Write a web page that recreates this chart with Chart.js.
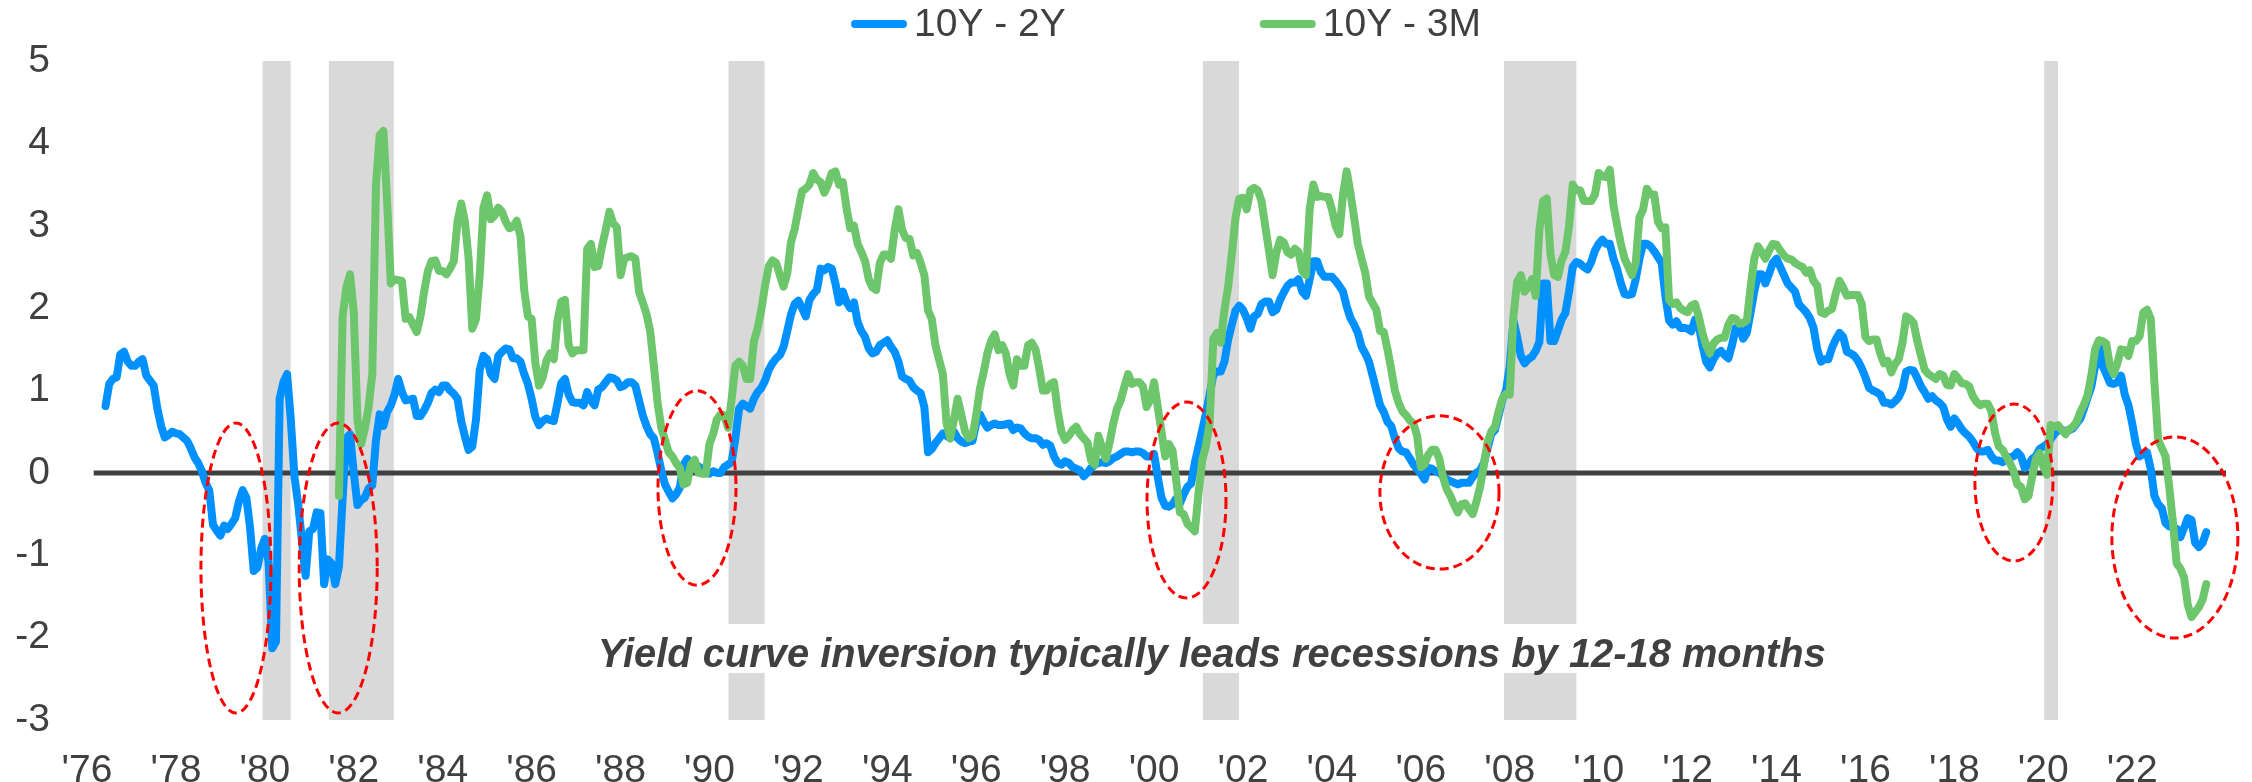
<!DOCTYPE html>
<html>
<head>
<meta charset="utf-8">
<script src="https://cdn.jsdelivr.net/npm/chart.js@4.4.0/dist/chart.umd.min.js"></script>
<style>
  html, body { margin: 0; padding: 0; background: #ffffff; }
  #wrap { width: 2252px; height: 782px; position: relative; }
</style>
</head>
<body>
<div id="wrap"><canvas id="chart"></canvas></div>
<script>
// ---------------- DATA ----------------
const seriesNames = ['10Y - 2Y', '10Y - 3M'];

// monthly values, first month given by start string
const start10y2y = '1976-06';
const spread10y2y = [
  /*1976 Jun-Dec*/ 0.81, 1.08, 1.14, 1.16, 1.44, 1.47, 1.35,
  /*1977*/ 1.30, 1.30, 1.35, 1.38, 1.18, 1.12, 1.06, 0.78, 0.57, 0.43, 0.46, 0.50,
  /*1978*/ 0.48, 0.47, 0.43, 0.39, 0.30, 0.19, 0.12, 0.02, -0.12, -0.21, -0.63, -0.70,
  /*1979*/ -0.76, -0.64, -0.68, -0.62, -0.55, -0.35, -0.21, -0.30, -0.66, -1.19, -1.15, -0.92,
  /*1980*/ -0.80, -1.08, -2.13, -2.05, 0.90, 1.10, 1.20, 0.65, -0.05, -0.38, -0.82, -1.25,
  /*1981*/ -0.71, -0.68, -0.48, -0.49, -1.35, -1.05, -1.10, -1.35, -1.14, -0.30, 0.42, 0.47,
  /*1982*/ 0.00, -0.39, -0.33, -0.30, -0.19, -0.15, 0.40, 0.71, 0.57, 0.74, 0.82, 0.95,
  /*1983*/ 1.14, 0.98, 0.88, 0.89, 0.90, 0.69, 0.69, 0.76, 0.85, 0.97, 1.01, 0.98,
  /*1984*/ 1.06, 1.06, 1.00, 0.96, 0.90, 0.63, 0.44, 0.28, 0.32, 0.65, 1.25, 1.42,
  /*1985*/ 1.38, 1.20, 1.14, 1.42, 1.47, 1.51, 1.50, 1.39, 1.39, 1.35, 1.20, 1.08,
  /*1986*/ 0.90, 0.68, 0.58, 0.63, 0.66, 0.64, 0.63, 0.85, 1.09, 1.14, 0.95, 0.86,
  /*1987*/ 0.85, 0.85, 0.82, 0.98, 0.88, 0.82, 1.01, 1.04, 1.10, 1.16, 1.15, 1.12,
  /*1988*/ 1.04, 1.06, 1.10, 1.10, 1.06, 0.88, 0.70, 0.57, 0.47, 0.42, 0.24, 0.03,
  /*1989*/ -0.14, -0.23, -0.31, -0.26, -0.18, 0.10, 0.17, 0.12, 0.05, 0.08, 0.05, 0.02,
  /*1990*/ -0.01, 0.02, 0.00, 0.00, 0.07, 0.10, 0.13, 0.42, 0.78, 0.84, 0.81, 0.78,
  /*1991*/ 0.90, 0.98, 1.03, 1.12, 1.25, 1.33, 1.39, 1.43, 1.53, 1.72, 1.92, 2.05,
  /*1992*/ 2.09, 2.00, 1.90, 2.10, 2.17, 2.22, 2.48, 2.46, 2.50, 2.48, 2.30, 2.07,
  /*1993*/ 2.20, 2.07, 2.00, 2.07, 1.83, 1.72, 1.65, 1.51, 1.45, 1.47, 1.55, 1.58,
  /*1994*/ 1.61, 1.53, 1.47, 1.35, 1.17, 1.14, 1.12, 1.04, 1.00, 0.97, 0.80, 0.25,
  /*1995*/ 0.29, 0.36, 0.42, 0.48, 0.45, 0.42, 0.50, 0.42, 0.38, 0.36, 0.38, 0.39,
  /*1996*/ 0.60, 0.71, 0.62, 0.55, 0.58, 0.60, 0.58, 0.58, 0.59, 0.60, 0.52, 0.55,
  /*1997*/ 0.54, 0.48, 0.44, 0.42, 0.42, 0.40, 0.34, 0.36, 0.33, 0.20, 0.12, 0.10,
  /*1998*/ 0.14, 0.12, 0.07, 0.05, 0.03, -0.04, 0.00, 0.06, 0.10, 0.12, 0.13, 0.12,
  /*1999*/ 0.14, 0.18, 0.20, 0.23, 0.26, 0.26, 0.25, 0.26, 0.26, 0.24, 0.20, 0.20,
  /*2000*/ 0.23, -0.05, -0.30, -0.40, -0.41, -0.38, -0.31, -0.37, -0.26, -0.17, -0.13, 0.12,
  /*2001*/ 0.32, 0.52, 0.72, 0.95, 1.19, 1.23, 1.23, 1.35, 1.62, 1.80, 1.97, 2.03,
  /*2002*/ 1.98, 1.88, 1.75, 1.90, 1.93, 2.05, 2.08, 2.08, 1.95, 1.98, 2.10, 2.19,
  /*2003*/ 2.27, 2.31, 2.31, 2.35, 2.20, 2.15, 2.35, 2.57, 2.57, 2.44, 2.38, 2.38,
  /*2004*/ 2.38, 2.33, 2.27, 2.20, 2.02, 1.88, 1.80, 1.70, 1.53, 1.45, 1.35, 1.18,
  /*2005*/ 1.00, 0.82, 0.74, 0.62, 0.57, 0.42, 0.30, 0.26, 0.25, 0.18, 0.10, 0.05,
  /*2006*/ -0.01, -0.08, 0.06, 0.05, 0.02, 0.00, -0.04, -0.08, -0.10, -0.12, -0.14, -0.12,
  /*2007*/ -0.12, -0.12, -0.05, 0.00, 0.03, 0.12, 0.30, 0.47, 0.52, 0.70, 0.88, 1.00,
  /*2008*/ 1.30, 1.85, 1.65, 1.42, 1.33, 1.38, 1.41, 1.48, 1.59, 2.30, 2.30, 1.60,
  /*2009*/ 1.60, 1.73, 1.86, 1.94, 2.20, 2.50, 2.56, 2.54, 2.50, 2.47, 2.56, 2.70,
  /*2010*/ 2.78, 2.83, 2.78, 2.78, 2.60, 2.47, 2.30, 2.17, 2.16, 2.17, 2.35, 2.60,
  /*2011*/ 2.78, 2.78, 2.75, 2.69, 2.62, 2.55, 2.15, 1.85, 1.80, 1.84, 1.76, 1.76,
  /*2012*/ 1.75, 1.72, 1.86, 1.80, 1.55, 1.35, 1.28, 1.38, 1.45, 1.48, 1.43, 1.39,
  /*2013*/ 1.55, 1.76, 1.76, 1.63, 1.70, 1.95, 2.20, 2.41, 2.41, 2.30, 2.42, 2.55,
  /*2014*/ 2.60, 2.50, 2.40, 2.30, 2.25, 2.20, 2.05, 2.00, 1.95, 1.88, 1.76, 1.50,
  /*2015*/ 1.35, 1.38, 1.38, 1.52, 1.62, 1.70, 1.65, 1.47, 1.45, 1.42, 1.36, 1.27,
  /*2016*/ 1.16, 1.03, 1.00, 0.98, 0.95, 0.85, 0.85, 0.83, 0.87, 0.92, 1.02, 1.23,
  /*2017*/ 1.25, 1.24, 1.15, 1.05, 0.98, 0.90, 0.93, 0.88, 0.85, 0.80, 0.65, 0.56,
  /*2018*/ 0.66, 0.60, 0.53, 0.48, 0.44, 0.38, 0.30, 0.26, 0.26, 0.28, 0.20, 0.15,
  /*2019*/ 0.15, 0.13, 0.16, 0.19, 0.20, 0.25, 0.20, 0.06, 0.10, 0.17, 0.20, 0.29,
  /*2020*/ 0.32, 0.35, 0.41, 0.47, 0.52, 0.52, 0.51, 0.52, 0.54, 0.60, 0.66, 0.78,
  /*2021*/ 0.92, 1.05, 1.30, 1.57, 1.30, 1.20, 1.09, 1.08, 1.10, 1.18, 0.95, 0.82,
  /*2022*/ 0.60, 0.35, 0.20, 0.23, 0.25, 0.05, -0.28, -0.38, -0.43, -0.61, -0.65, -0.66,
  /*2023 Jan-Sep*/ -0.68, -0.78, -0.67, -0.55, -0.57, -0.85, -0.90, -0.85, -0.72
];

const start10y3m = '1981-09';
const spread10y3m = [
  /*1981 Sep-Dec*/ -0.28, 1.90, 2.25, 2.41,
  /*1982*/ 1.95, 0.65, 0.35, 0.54, 0.80, 1.20, 3.50, 4.10, 4.15, 3.30, 2.30, 2.35,
  /*1983*/ 2.34, 2.33, 1.87, 1.89, 1.80, 1.71, 1.90, 2.20, 2.45, 2.57, 2.58, 2.45,
  /*1984*/ 2.45, 2.41, 2.48, 2.57, 3.05, 3.27, 3.05, 2.60, 1.75, 1.87, 2.40, 3.22,
  /*1985*/ 3.37, 3.08, 3.12, 3.22, 3.17, 3.05, 2.97, 2.99, 3.06, 2.87, 2.22, 1.90,
  /*1986*/ 1.87, 1.34, 1.06, 1.16, 1.36, 1.45, 1.38, 1.85, 2.08, 2.10, 1.55, 1.45,
  /*1987*/ 1.49, 1.49, 1.49, 2.72, 2.78, 2.50, 2.51, 2.75, 2.95, 3.17, 3.03, 2.98,
  /*1988*/ 2.40, 2.60, 2.62, 2.63, 2.60, 2.20, 2.07, 1.93, 1.72, 1.30, 0.85, 0.55,
  /*1989*/ 0.40, 0.25, 0.20, 0.12, 0.06, -0.14, -0.12, 0.10, 0.16, 0.00, -0.01, -0.01,
  /*1990*/ 0.35, 0.47, 0.65, 0.71, 0.70, 0.55, 0.90, 1.30, 1.35, 1.30, 1.14, 1.14,
  /*1991*/ 1.60, 1.75, 1.98, 2.27, 2.51, 2.58, 2.55, 2.40, 2.26, 2.42, 2.80, 2.96,
  /*1992*/ 3.20, 3.42, 3.45, 3.50, 3.64, 3.56, 3.53, 3.40, 3.50, 3.64, 3.66, 3.50,
  /*1993*/ 3.53, 3.21, 2.97, 3.00, 2.78, 2.68, 2.57, 2.35, 2.25, 2.22, 2.55, 2.65,
  /*1994*/ 2.65, 2.60, 2.95, 3.20, 2.95, 2.85, 2.84, 2.64, 2.67, 2.55, 2.40, 1.97,
  /*1995*/ 1.87, 1.55, 1.37, 1.20, 0.60, 0.42, 0.65, 0.90, 0.70, 0.50, 0.42, 0.45,
  /*1996*/ 0.70, 1.02, 1.22, 1.45, 1.60, 1.68, 1.49, 1.55, 1.45, 1.20, 1.06, 1.38,
  /*1997*/ 1.30, 1.30, 1.55, 1.58, 1.50, 1.27, 1.00, 1.00, 1.08, 1.10, 0.75, 0.50,
  /*1998*/ 0.40, 0.45, 0.52, 0.56, 0.47, 0.42, 0.37, 0.15, 0.10, 0.45, 0.30, 0.17,
  /*1999*/ 0.37, 0.60, 0.78, 0.88, 1.05, 1.20, 1.08, 1.10, 1.10, 1.05, 0.80, 0.89,
  /*2000*/ 1.10, 0.80, 0.50, 0.20, 0.35, 0.27, -0.10, -0.48, -0.50, -0.62, -0.66, -0.71,
  /*2001*/ -0.25, 0.15, 0.33, 0.60, 1.63, 1.70, 1.58, 1.98, 2.26, 2.66, 3.10, 3.33,
  /*2002*/ 3.34, 3.20, 3.43, 3.46, 3.43, 3.30, 3.00, 2.70, 2.40, 2.67, 2.83, 2.80,
  /*2003*/ 2.68, 2.65, 2.72, 2.68, 2.45, 2.40, 3.20, 3.50, 3.35, 3.36, 3.35, 3.35,
  /*2004*/ 3.20, 3.00, 2.90, 3.38, 3.66, 3.40, 3.10, 2.78, 2.60, 2.43, 2.14, 2.06,
  /*2005*/ 1.98, 1.72, 1.71, 1.50, 1.26, 1.00, 0.85, 0.75, 0.70, 0.64, 0.60, 0.45,
  /*2006*/ 0.07, 0.10, 0.22, 0.28, 0.28, 0.17, -0.05, -0.20, -0.28, -0.39, -0.48, -0.38,
  /*2007*/ -0.37, -0.44, -0.50, -0.35, -0.17, 0.09, 0.37, 0.50, 0.56, 0.75, 0.90, 0.96,
  /*2008*/ 0.95, 1.90, 2.32, 2.40, 2.20, 2.26, 2.35, 2.15, 2.95, 3.30, 3.33, 2.65,
  /*2009*/ 2.40, 2.38, 2.58, 2.68, 2.99, 3.50, 3.43, 3.43, 3.30, 3.30, 3.30, 3.38,
  /*2010*/ 3.64, 3.60, 3.59, 3.68, 3.25, 3.00, 2.78, 2.60, 2.50, 2.40, 2.55, 3.10,
  /*2011*/ 3.20, 3.45, 3.38, 3.38, 3.05, 2.97, 2.98, 2.10, 2.05, 2.07, 2.00, 1.97,
  /*2012*/ 1.95, 2.03, 2.05, 1.90, 1.70, 1.55, 1.45, 1.57, 1.62, 1.64, 1.64, 1.80,
  /*2013*/ 1.88, 1.87, 1.81, 1.82, 1.85, 2.25, 2.60, 2.75, 2.68, 2.60, 2.70, 2.78,
  /*2014*/ 2.77, 2.70, 2.64, 2.60, 2.59, 2.55, 2.52, 2.50, 2.43, 2.46, 2.33, 2.27,
  /*2015*/ 1.95, 1.93, 1.97, 1.99, 2.18, 2.33, 2.25, 2.15, 2.16, 2.16, 2.16, 2.05,
  /*2016*/ 1.65, 1.60, 1.62, 1.62, 1.45, 1.33, 1.36, 1.22, 1.32, 1.38, 1.58, 1.90,
  /*2017*/ 1.87, 1.82, 1.60, 1.42, 1.25, 1.20, 1.17, 1.14, 1.20, 1.18, 1.07, 1.06,
  /*2018*/ 1.20, 1.15, 1.09, 1.08, 1.05, 0.93, 0.86, 0.82, 0.84, 0.84, 0.75, 0.48,
  /*2019*/ 0.32, 0.28, 0.20, 0.12, 0.02, -0.14, -0.17, -0.32, -0.28, -0.05, 0.17, 0.24,
  /*2020*/ 0.08, -0.02, 0.58, 0.56, 0.58, 0.52, 0.47, 0.53, 0.56, 0.62, 0.74, 0.83,
  /*2021*/ 0.95, 1.19, 1.50, 1.61, 1.60, 1.57, 1.30, 1.20, 1.33, 1.50, 1.49, 1.42,
  /*2022*/ 1.60, 1.60, 1.66, 1.95, 1.98, 1.87, 1.10, 0.40, 0.30, 0.20, -0.17, -0.60,
  /*2023 Jan-Sep*/ -1.10, -1.16, -1.27, -1.60, -1.75, -1.69, -1.63, -1.54, -1.35
];

// axis ticks
const xTickYears = [1976, 1978, 1980, 1982, 1984, 1986, 1988, 1990, 1992, 1994, 1996, 1998,
                    2000, 2002, 2004, 2006, 2008, 2010, 2012, 2014, 2016, 2018, 2020, 2022];
const yTickValues = [-3, -2, -1, 0, 1, 2, 3, 4, 5];

// recessions (decimal years)
const recessionStarts = [1979.95, 1981.44, 1990.43, 2001.10, 2007.87, 2020.02];
const recessionEnds   = [1980.58, 1982.90, 1991.24, 2001.91, 2009.50, 2020.33];

// inversion circles (annotation): centre year/value, half width (years), half height (value)
const circleYears      = [1979.35, 1981.65, 1989.72, 2000.73, 2006.42, 2019.34, 2022.96];
const circleValues     = [-1.155, -1.155, -0.183, -0.330, -0.238, -0.117, -0.784];
const circleHalfYears  = [0.787, 0.877, 0.877, 0.888, 1.340, 0.877, 1.417];
const circleHalfValues = [1.76, 1.76, 1.18, 1.19, 0.93, 0.953, 1.22];

const noteText = 'Yield curve inversion typically leads recessions by 12-18 months';
const noteYear = 2001.30;
const noteValue = -2.356;

const zeroLineYears = [1976.15, 2024.11];

// ---------------- HELPERS ----------------
function toPoints(start, values) {
  const [y0, m0] = start.split('-').map(Number);
  return values.map((v, i) => ({ x: y0 + (m0 - 1 + i) / 12, y: v }));
}

const BLUE = '#0091FF';
const GREEN = '#6DC66B';
const TEXT = '#404040';
const FONT = "'Liberation Sans', Arial, sans-serif";
const LINE_W = 8;

const decor = {
  id: 'decor',
  beforeDatasetsDraw(chart) {
    const { ctx, scales: { x, y } } = chart;
    ctx.save();
    // recession bands
    ctx.fillStyle = '#D9D9D9';
    const yTop = y.getPixelForValue(5), yBot = y.getPixelForValue(-3);
    recessionStarts.forEach((s, i) => {
      const x0 = x.getPixelForValue(s), x1 = x.getPixelForValue(recessionEnds[i]);
      ctx.fillRect(x0, yTop, x1 - x0, yBot - yTop);
    });
    // note with white backing
    ctx.font = 'italic bold 40px ' + FONT;
    const cx = x.getPixelForValue(noteYear);
    const by = y.getPixelForValue(noteValue);
    const maxW = 1228;
    const w = Math.min(ctx.measureText(noteText).width, maxW);
    ctx.fillStyle = '#ffffff';
    ctx.fillRect(cx - w / 2 - 12, by - 43, w + 24, 49);
    ctx.fillStyle = TEXT;
    ctx.textAlign = 'center';
    ctx.textBaseline = 'alphabetic';
    ctx.fillText(noteText, cx, by, maxW);
    // zero line
    ctx.strokeStyle = '#404040';
    ctx.lineWidth = 5;
    ctx.beginPath();
    ctx.moveTo(x.getPixelForValue(zeroLineYears[0]), y.getPixelForValue(0));
    ctx.lineTo(x.getPixelForValue(zeroLineYears[1]), y.getPixelForValue(0));
    ctx.stroke();
    ctx.restore();
  },
  afterDatasetsDraw(chart) {
    const { ctx, scales: { x, y } } = chart;
    ctx.save();
    ctx.strokeStyle = '#FF0000';
    ctx.lineWidth = 3;
    ctx.setLineDash([9, 5]);
    circleYears.forEach((cy, i) => {
      const px = x.getPixelForValue(cy);
      const py = y.getPixelForValue(circleValues[i]);
      const rx = x.getPixelForValue(cy + circleHalfYears[i]) - px;
      const ry = y.getPixelForValue(circleValues[i] - circleHalfValues[i]) - py;
      ctx.beginPath();
      ctx.ellipse(px, py, rx, ry, 0, 0, Math.PI * 2);
      ctx.stroke();
    });
    ctx.restore();
  },
  afterDraw(chart) {
    const { ctx } = chart;
    ctx.save();
    ctx.font = '39px ' + FONT;
    const sample = 56, gapText = 7, itemGap = 194, centerX = 1166, cy = 24;
    const items = chart.data.datasets.map(d => ({ label: d.label, color: d.borderColor, w: sample + gapText + ctx.measureText(d.label).width }));
    const total = items.reduce((a, it) => a + it.w, 0) + itemGap * (items.length - 1);
    let xPos = centerX - total / 2;
    items.forEach(it => {
      ctx.strokeStyle = it.color;
      ctx.lineWidth = 8;
      ctx.lineCap = 'round';
      ctx.beginPath();
      ctx.moveTo(xPos + 4, cy);
      ctx.lineTo(xPos + sample - 4, cy);
      ctx.stroke();
      ctx.fillStyle = TEXT;
      ctx.textAlign = 'left';
      ctx.textBaseline = 'middle';
      ctx.fillText(it.label, xPos + sample + gapText, cy + 1);
      xPos += it.w + itemGap;
    });
    ctx.restore();
  }
};

new Chart(document.getElementById('chart'), {
  type: 'line',
  data: {
    datasets: [
      { label: seriesNames[0], data: toPoints(start10y2y, spread10y2y), borderColor: BLUE, backgroundColor: BLUE,
        borderWidth: LINE_W, pointRadius: 0, tension: 0, borderJoinStyle: 'round', borderCapStyle: 'round', order: 1 },
      { label: seriesNames[1], data: toPoints(start10y3m, spread10y3m), borderColor: GREEN, backgroundColor: GREEN,
        borderWidth: LINE_W, pointRadius: 0, tension: 0, borderJoinStyle: 'round', borderCapStyle: 'round', order: 0 }
    ]
  },
  options: {
    responsive: true,
    maintainAspectRatio: false,
    devicePixelRatio: 1,
    animation: false,
    events: [],
    layout: { padding: { left: 0, right: 26, top: 61, bottom: 0 } },
    plugins: { legend: { display: false }, tooltip: { enabled: false } },
    scales: {
      x: {
        type: 'linear', min: 1976, max: 2024.11,
        grid: { display: false, drawTicks: false }, border: { display: false },
        afterBuildTicks: s => { s.ticks = xTickYears.map(v => ({ value: v })); },
        afterFit: s => { s.height = 62; },
        ticks: { autoSkip: false, maxRotation: 0, minRotation: 0, padding: 28, color: TEXT,
                 font: { family: FONT, size: 39 },
                 callback: v => "'" + String(v).slice(2) }
      },
      y: {
        min: -3, max: 5,
        grid: { display: false, drawTicks: false }, border: { display: false },
        afterBuildTicks: s => { s.ticks = yTickValues.map(v => ({ value: v })); },
        afterFit: s => { s.width = 87; },
        ticks: { padding: 37, color: TEXT, font: { family: FONT, size: 39 }, callback: v => String(v) }
      }
    }
  },
  plugins: [decor]
});
</script>
</body>
</html>
